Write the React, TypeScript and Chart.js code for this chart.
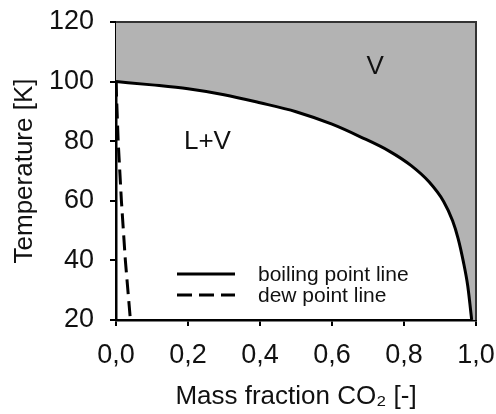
import React, { useEffect, useRef } from 'react';
import { Chart, registerables } from 'chart.js';

Chart.register(...registerables);

// Boiling point line (mass fraction CO2, temperature K)
const boilingX = [0, 0.1, 0.2, 0.3, 0.4, 0.5, 0.6, 0.68, 0.76, 0.82, 0.87, 0.91, 0.935, 0.95, 0.965, 0.977, 0.983, 0.988];
const boilingT = [100, 98.9, 97.6, 95.6, 92.9, 89.9, 85.7, 81.4, 76.6, 71.8, 66.3, 59.8, 53.3, 47.5, 39.5, 31.5, 25.5, 20];

// Dew point line
const dewX = [0, 0.006, 0.015, 0.026, 0.04];
const dewT = [100, 80, 60, 40, 20];

// Axis ranges / ticks
const xMin = 0;
const xMax = 1;
const xStep = 0.2;
const yMin = 20;
const yMax = 120;
const yStep = 20;

const seriesLabels = ['boiling point line', 'dew point line'];
const xTitle = 'Mass fraction CO\u2082 [-]';
const yTitle = 'Temperature [K]';

// Region annotations (text, x value, y value)
const regionText = ['V', 'L+V'];
const regionX = [0.72, 0.254];
const regionY = [105, 79.7];

const FONT = '"Liberation Sans", Arial, sans-serif';

const fmt = (v: number) => v.toFixed(1).replace('.', ',');

const regionPlugin = {
  id: 'regionLabels',
  afterDatasetsDraw(chart: any) {
    const { ctx, scales } = chart;
    ctx.save();
    ctx.fillStyle = '#111';
    ctx.font = `26px ${FONT}`;
    ctx.textAlign = 'center';
    ctx.textBaseline = 'middle';
    regionText.forEach((t, i) => {
      ctx.fillText(t, scales.x.getPixelForValue(regionX[i]), scales.y.getPixelForValue(regionY[i]));
    });
    ctx.restore();
  },
};

const framePlugin = {
  id: 'frame',
  afterDatasetsDraw(chart: any) {
    const { ctx, chartArea } = chart;
    ctx.save();
    ctx.strokeStyle = '#333';
    ctx.lineWidth = 2;
    ctx.beginPath();
    ctx.moveTo(chartArea.left, chartArea.top);
    ctx.lineTo(chartArea.right, chartArea.top);
    ctx.lineTo(chartArea.right, chartArea.bottom);
    ctx.stroke();
    ctx.restore();
  },
};

const legendPlugin = {
  id: 'innerLegend',
  afterDatasetsDraw(chart: any) {
    const { ctx, chartArea } = chart;
    const x0 = chartArea.left + 61;
    const x1 = chartArea.left + 119;
    const tx = chartArea.left + 142;
    const rows = [chartArea.bottom - 46, chartArea.bottom - 25];
    ctx.save();
    ctx.font = `21px ${FONT}`;
    ctx.fillStyle = '#111';
    ctx.textAlign = 'left';
    ctx.textBaseline = 'middle';
    [0, 1].forEach((i) => {
      const ds = chart.data.datasets[i];
      ctx.strokeStyle = ds.borderColor;
      ctx.lineWidth = ds.borderWidth;
      ctx.setLineDash(ds.borderDash || []);
      ctx.beginPath();
      ctx.moveTo(x0, rows[i]);
      ctx.lineTo(x1, rows[i]);
      ctx.stroke();
      ctx.fillText(ds.label, tx, rows[i] + 1);
    });
    ctx.restore();
  },
};

export default function App() {
  const ref = useRef<HTMLCanvasElement | null>(null);

  useEffect(() => {
    if (!ref.current) return;
    const boiling = boilingX.map((x, i) => ({ x, y: boilingT[i] }));
    const dew = dewX.map((x, i) => ({ x, y: dewT[i] }));
    const vRegion = [...boiling, { x: xMax, y: yMin }];

    const chart = new Chart(ref.current, {
      type: 'scatter',
      data: {
        datasets: [
          {
            label: seriesLabels[0],
            data: boiling,
            showLine: true,
            borderColor: '#000',
            borderWidth: 3,
            pointRadius: 0,
            cubicInterpolationMode: 'monotone',
            fill: false,
          },
          {
            label: seriesLabels[1],
            data: dew,
            showLine: true,
            borderColor: '#000',
            borderWidth: 3,
            borderDash: [15, 7],
            pointRadius: 0,
            fill: false,
          },
          {
            label: 'V region',
            data: vRegion,
            showLine: true,
            borderWidth: 0,
            borderColor: 'rgba(0,0,0,0)',
            backgroundColor: '#b3b3b3',
            pointRadius: 0,
            tension: 0,
            fill: 'end',
          },
        ],
      } as any,
      options: {
        animation: false,
        responsive: false,
        maintainAspectRatio: false,
        layout: { padding: { left: 0, top: 22, right: 20, bottom: 0 } },
        plugins: {
          legend: { display: false },
          tooltip: { enabled: false },
        },
        scales: {
          x: {
            type: 'linear',
            min: xMin,
            max: xMax,
            afterFit: (s: any) => {
              s.height = 94;
              s.paddingLeft = 0;
              s.paddingRight = 0;
            },
            ticks: {
              stepSize: xStep,
              color: '#111',
              font: { family: FONT, size: 27 },
              padding: 13,
              maxRotation: 0,
              callback: (v: any) => fmt(Number(v)),
            },
            grid: { drawOnChartArea: false, drawTicks: true, tickLength: 6, color: '#000', lineWidth: 2 },
            border: { display: true, color: '#000', width: 2.5 },
            title: {
              display: true,
              text: xTitle,
              color: '#111',
              font: { family: FONT, size: 26 },
              padding: { top: 0, bottom: 2 },
            },
          },
          y: {
            type: 'linear',
            min: yMin,
            max: yMax,
            afterFit: (s: any) => {
              s.width = 116;
              s.paddingTop = 0;
              s.paddingBottom = 0;
            },
            ticks: {
              stepSize: yStep,
              color: '#111',
              font: { family: FONT, size: 27 },
              padding: 16,
            },
            grid: { drawOnChartArea: false, drawTicks: true, tickLength: 6, color: '#000', lineWidth: 2 },
            border: { display: true, color: '#000', width: 2.5 },
            title: {
              display: true,
              text: yTitle,
              color: '#111',
              font: { family: FONT, size: 26 },
              padding: { top: 9, bottom: 0 },
            },
          },
        },
      } as any,
      plugins: [regionPlugin, framePlugin, legendPlugin],
    });
    return () => chart.destroy();
  }, []);

  return (
    <div style={{ position: 'fixed', left: 0, top: 0, width: 496, height: 414, background: '#fff' }}>
      <canvas ref={ref} width={496} height={414} style={{ display: 'block', width: 496, height: 414 }} />
    </div>
  );
}
